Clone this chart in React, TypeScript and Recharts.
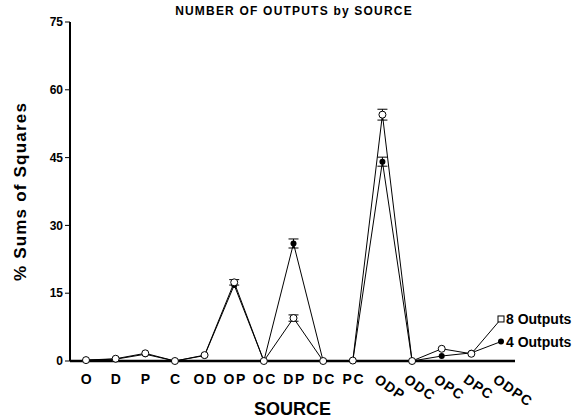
import { LineChart, Line, XAxis, YAxis, ErrorBar, Label } from 'recharts';

const SOURCES = ['O', 'D', 'P', 'C', 'OD', 'OP', 'OC', 'DP', 'DC', 'PC', 'ODP', 'ODC', 'OPC', 'DPC', 'ODPC'];
const ROTATED = ['ODP', 'ODC', 'OPC', 'DPC', 'ODPC'];
const OUTPUTS_8 = [0.2, 0.5, 1.7, 0, 1.3, 17.4, 0, 9.5, 0, 0.1, 54.5, 0, 2.7, 1.6, 9.3];
const OUTPUTS_4 = [0.2, 0.4, 1.5, 0, 1.2, 16.8, 0, 26, 0, 0, 44.1, 0, 1.1, 1.8, 4.3];
const ERR_8 = [0, 0, 0, 0, 0, 0.6, 0, 0.7, 0, 0, 1.2, 0, 0, 0, 0];
const ERR_4 = [0, 0, 0, 0, 0, 0, 0, 1, 0, 0, 1, 0, 0, 0, 0];
const Y_TICKS = [0, 15, 30, 45, 60, 75];
const LEGEND_8 = '8 Outputs';
const LEGEND_4 = '4 Outputs';

const data = SOURCES.map((s, i) => ({
  name: s,
  out8: OUTPUTS_8[i],
  out4: OUTPUTS_4[i],
  err8: ERR_8[i],
  err4: ERR_4[i],
}));

const FONT = '"Liberation Sans", Arial, Helvetica, sans-serif';

function SourceTick({ x, y, payload }: any) {
  if (ROTATED.includes(payload.value)) {
    const tx = x - 3;
    const ty = y + 4;
    return (
      <text x={tx} y={ty} transform={`rotate(35, ${tx}, ${ty})`} textAnchor="start" dominantBaseline="hanging"
        fontFamily={FONT} fontWeight="bold" fontSize={14} letterSpacing={1} fill="#000">
        {payload.value}
      </text>
    );
  }
  return (
    <text x={x + 1} y={y + 15} textAnchor="middle" fontFamily={FONT} fontWeight="bold" fontSize={14} letterSpacing={1.5} fill="#000">
      {payload.value}
    </text>
  );
}

function dot8(props: any) {
  const { cx, cy, payload, index } = props;
  if (payload.name === 'ODPC') {
    return (
      <g key={`d8-${index}`}>
        <rect x={cx - 3} y={cy - 3} width={6} height={6} fill="#fff" stroke="#000" strokeWidth={1} />
        <text x={cx + 5} y={cy + 5} fontFamily={FONT} fontWeight="bold" fontSize={14} fill="#000">{LEGEND_8}</text>
      </g>
    );
  }
  return <circle key={`d8-${index}`} cx={cx} cy={cy} r={3.5} fill="#fff" stroke="#000" strokeWidth={1} />;
}

function dot4(props: any) {
  const { cx, cy, payload, index } = props;
  if (payload.name === 'ODPC') {
    return (
      <g key={`d4-${index}`}>
        <circle cx={cx} cy={cy} r={3} fill="#000" />
        <text x={cx + 5} y={cy + 5} fontFamily={FONT} fontWeight="bold" fontSize={14} fill="#000">{LEGEND_4}</text>
      </g>
    );
  }
  return <circle key={`d4-${index}`} cx={cx} cy={cy} r={3} fill="#000" />;
}

export default function App() {
  return (
    <div style={{ position: 'absolute', left: 0, top: 0, width: 575, height: 419, background: '#fff' }}>
      <div style={{ position: 'absolute', left: 0, top: 4, width: 588, textAlign: 'center', fontFamily: FONT, fontWeight: 'bold', fontSize: 12, letterSpacing: 1.2 }}>
        NUMBER OF OUTPUTS by SOURCE
      </div>
      <LineChart width={575} height={419} data={data} margin={{ top: 22, right: 60, bottom: 0, left: 0 }}>
        <XAxis dataKey="name" type="category" padding={{ left: 16, right: 14 }} tickLine={false} interval={0}
          axisLine={{ stroke: '#000', strokeWidth: 2.5 }} tick={<SourceTick />} height={58}>
          <Label value="SOURCE" position="insideBottom" offset={4} dx={0} fontFamily={FONT} fontWeight="bold" fontSize={18} fill="#000" />
        </XAxis>
        <YAxis domain={[0, 75]} ticks={Y_TICKS} width={70} interval={0}
          axisLine={{ stroke: '#000', strokeWidth: 2 }} tickLine={{ stroke: '#000' }} tickSize={5}
          tick={{ fontFamily: FONT, fontWeight: 'bold', fontSize: 12, fill: '#000' }}>
          <Label value="% Sums of Squares" angle={-90} position="insideLeft" offset={20} dy={0}
            style={{ textAnchor: 'middle', letterSpacing: 1.2 }} fontFamily={FONT} fontWeight="bold" fontSize={17} fill="#000" />
        </YAxis>
        <Line dataKey="out4" stroke="#000" strokeWidth={1} dot={dot4} activeDot={false} isAnimationActive={false}>
          <ErrorBar dataKey="err4" direction="y" width={5} stroke="#000" strokeWidth={1} />
        </Line>
        <Line dataKey="out8" stroke="#000" strokeWidth={1} dot={dot8} activeDot={false} isAnimationActive={false}>
          <ErrorBar dataKey="err8" direction="y" width={5} stroke="#000" strokeWidth={1} />
        </Line>
      </LineChart>
    </div>
  );
}
